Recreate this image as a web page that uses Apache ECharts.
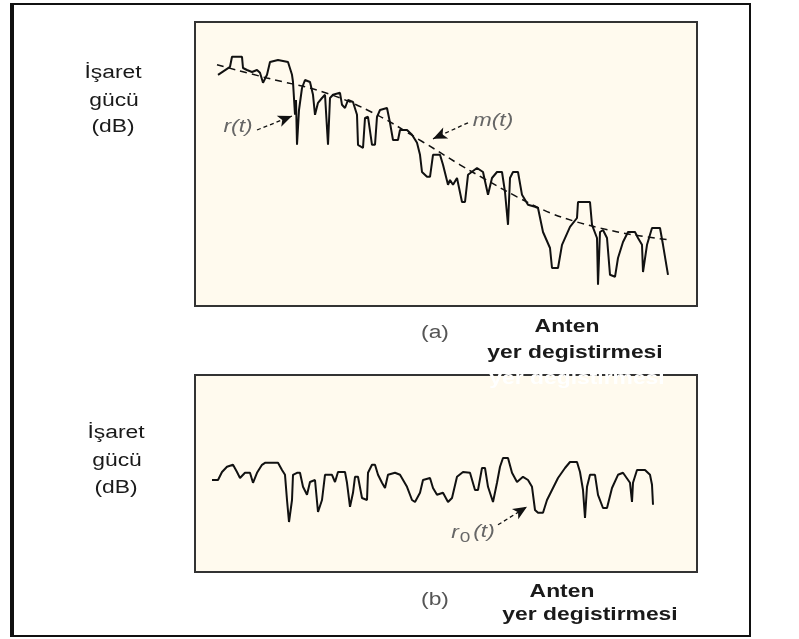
<!DOCTYPE html>
<html><head><meta charset="utf-8">
<script src="https://cdn.jsdelivr.net/npm/echarts@6/dist/echarts.min.js"></script>
<style>html,body{margin:0;padding:0;background:#fff}#c{width:799px;height:639px}</style>
</head><body><div id="c"></div>
<script>
// Panel (a): received signal r(t) vs antenna displacement  [displacement, power dB]
const rT = [[4.6,57.8],[7.0,59.8],[7.4,62.3],[9.4,62.3],[9.6,59.5],[10.4,59.0],[11.4,58.5],[12.4,59.0],[13.0,58.3],[13.6,55.8],[14.4,57.8],[15.0,61.0],[16.6,61.5],[18.6,61.0],[19.4,57.8],[19.6,56.0],[20.0,47.8],[20.2,51.5],[20.4,40.3],[20.8,49.0],[21.4,54.5],[22.0,56.5],[23.0,56.0],[23.6,52.8],[24.0,47.8],[24.6,50.8],[25.4,52.0],[26.0,52.8],[26.6,40.3],[27.0,52.0],[27.6,52.8],[29.0,53.3],[29.4,50.3],[30.0,49.5],[30.6,51.5],[31.6,51.0],[32.4,47.8],[32.6,40.3],[33.6,39.5],[34.0,47.0],[34.6,47.3],[35.4,40.3],[36.0,40.3],[36.4,47.3],[37.0,49.0],[38.4,49.5],[39.0,45.8],[39.6,41.5],[40.6,41.5],[41.0,44.0],[42.4,44.0],[43.4,42.8],[44.4,40.8],[45.0,37.8],[45.4,33.5],[46.4,32.3],[47.0,32.3],[47.6,37.8],[49.0,37.8],[49.6,35.3],[50.6,30.3],[51.0,31.5],[51.6,30.3],[52.4,32.0],[53.4,26.0],[54.0,26.0],[54.6,32.8],[56.4,34.5],[57.6,33.5],[58.6,27.8],[59.4,32.0],[60.4,33.5],[61.4,33.5],[62.0,28.5],[62.6,20.3],[63.0,32.0],[63.6,33.5],[64.6,33.5],[65.4,27.8],[66.6,25.3],[68.0,24.8],[68.6,24.5],[69.6,18.5],[71.0,14.5],[71.4,9.5],[72.6,9.5],[73.4,15.3],[75.0,19.8],[76.4,22.0],[76.6,26.0],[79.0,26.0],[79.4,20.3],[80.4,17.0],[80.6,5.3],[81.0,18.5],[81.6,19.0],[82.4,17.0],[83.0,7.8],[84.0,7.3],[84.6,12.0],[85.6,16.0],[86.6,18.5],[88.0,18.5],[88.6,17.0],[89.4,15.3],[89.6,8.5],[90.4,15.3],[91.4,19.5],[93.0,19.5],[93.6,15.3],[94.6,7.8]];
// Panel (a): local mean m(t)
const mT = [[4.4,60.3],[14.4,57.0],[25.6,53.5],[35.6,48.3],[45.6,41.0],[53.0,35.3],[57.6,32.0],[64.4,27.3],[71.0,23.3],[76.4,21.0],[81.0,19.5],[87.6,17.8],[95.0,16.5]];
// Panel (b): normalised signal r0(t)
const r0T = [[3.4,23.0],[4.6,23.0],[5.4,25.0],[6.4,26.3],[7.6,26.8],[8.4,25.0],[9.0,23.5],[10.0,24.8],[11.0,24.8],[11.6,22.3],[12.4,24.8],[13.4,26.8],[14.0,27.3],[16.6,27.3],[17.4,25.5],[18.0,24.3],[18.4,18.0],[18.8,12.5],[19.4,18.0],[19.6,24.3],[20.4,24.8],[21.0,24.8],[21.6,21.3],[22.4,19.3],[23.0,22.5],[24.0,23.0],[24.6,15.0],[25.4,18.0],[26.0,24.3],[27.4,24.3],[28.0,22.5],[28.6,25.0],[30.0,25.0],[30.4,22.3],[31.0,16.3],[31.6,19.8],[32.0,23.8],[32.6,23.8],[33.4,18.5],[34.4,18.0],[34.6,24.8],[35.4,26.8],[36.0,26.8],[36.6,24.3],[37.4,22.3],[38.0,21.0],[38.6,24.3],[40.0,24.8],[41.0,24.3],[42.4,21.3],[43.4,18.0],[44.0,17.5],[45.0,19.8],[45.6,23.0],[47.0,23.5],[47.6,21.0],[48.4,19.3],[49.6,19.8],[50.6,17.5],[51.4,18.5],[52.4,23.8],[53.6,25.0],[55.0,24.8],[56.0,20.5],[56.6,20.5],[57.4,26.0],[58.0,26.0],[58.6,21.3],[59.6,17.5],[60.4,22.3],[61.0,26.3],[61.6,28.5],[62.6,28.5],[63.4,24.8],[64.4,22.5],[65.6,23.8],[66.6,23.0],[67.4,21.3],[68.0,15.5],[68.6,14.8],[69.6,14.8],[70.4,18.0],[71.4,20.5],[72.6,23.5],[74.0,26.0],[75.0,27.5],[76.4,27.5],[77.0,25.0],[77.6,20.5],[78.0,13.5],[78.4,21.3],[79.0,24.3],[80.0,24.3],[80.6,19.3],[81.6,16.0],[82.4,16.0],[83.4,21.0],[84.6,24.3],[85.6,24.8],[87.0,22.3],[87.4,17.5],[87.6,22.3],[88.4,25.5],[90.0,25.5],[91.0,24.3],[91.4,21.8],[91.6,16.8]];
// Annotation arrows (data coords)
const arrowR = [[12.4,44.0],[19.4,47.5]];
const arrowM = [[54.6,45.8],[47.6,41.8]];
const arrowR0 = [[60.6,11.8],[66.4,16.3]];
const yLabel = ['İşaret','gücü','(dB)'];
const xLabel = ['Anten','yer degistirmesi'];

const chart = echarts.init(document.getElementById('c'), null, {renderer:'canvas'});
const FONT = '"Liberation Sans", Arial, sans-serif';
const SX = 1.27;
function txt(t, x, y, opt) {
  opt = opt || {};
  return {type:'text', x:x, y:y, scaleX: SX, z: opt.z || 10, style:{
    text:t, x:0, y:0, align:'center', verticalAlign:'middle', textAlign:'center', textVerticalAlign:'middle',
    fill: opt.fill || '#1a1a1a', fontSize: opt.size || 18, fontFamily: FONT,
    fontWeight: opt.weight || 'normal', fontStyle: opt.style || 'normal'}};
}
const arrowLine = (pts) => ({silent:true, symbol:['none','arrow'], symbolSize:[9,14],
  lineStyle:{color:'#111', type:[4,3], width:1.3}, label:{show:false},
  data:[[{coord:pts[0]},{coord:pts[1]}]]});

const graphics = [
  {type:'rect', shape:{x:11,y:4,width:739,height:632}, style:{fill:'none', stroke:'#111', lineWidth:2}, z:1},
  {type:'line', shape:{x1:12,y1:3,x2:12,y2:637}, style:{stroke:'#111', lineWidth:4}, z:1},
  txt(yLabel[0],113,73), txt(yLabel[1],114,101), txt(yLabel[2],113,127),
  txt(yLabel[0],116,433), txt(yLabel[1],117,461), txt(yLabel[2],116,488),
  txt('(a)',435,333,{fill:'#555'}),
  txt(xLabel[0],567,327,{weight:'bold'}), txt(xLabel[1],575,353,{weight:'bold'}),
  txt(xLabel[1],577,379,{weight:'bold', fill:'#ffffff', z:20}),
  txt('(b)',435,600,{fill:'#555'}),
  txt(xLabel[0],562,592,{weight:'bold'}), txt(xLabel[1],590,615,{weight:'bold'}),
  txt('r(t)',238,127,{fill:'#666', style:'italic', size:18}),
  txt('m(t)',493,121,{fill:'#666', style:'italic', size:18}),
  txt('r',455,533,{fill:'#666', style:'italic', size:18}),
  txt('0',465,538,{fill:'#666', size:15}),
  txt('(t)',484,532,{fill:'#666', style:'italic', size:18})
];

chart.setOption({
  animation:false,
  backgroundColor:'#ffffff',
  grid:[
    {left:195, top:22, width:502, height:284, show:true, backgroundColor:'#FFFAEE', borderColor:'#333', borderWidth:2},
    {left:195, top:375, width:502, height:197, show:true, backgroundColor:'#FFFAEE', borderColor:'#333', borderWidth:2}
  ],
  xAxis:[
    {type:'value', gridIndex:0, min:0, max:100.4, show:false},
    {type:'value', gridIndex:1, min:0, max:100.4, show:false}
  ],
  yAxis:[
    {type:'value', gridIndex:0, min:0, max:71, show:false},
    {type:'value', gridIndex:1, min:0, max:49.25, show:false}
  ],
  series:[
    {type:'line', xAxisIndex:0, yAxisIndex:0, data:rT, symbol:'none', lineStyle:{color:'#111', width:2}, markLine:arrowLine(arrowR)},
    {type:'line', xAxisIndex:0, yAxisIndex:0, data:mT, symbol:'none', smooth:0.4, lineStyle:{color:'#111', width:1.5, type:[7,5]}, markLine:arrowLine(arrowM)},
    {type:'line', xAxisIndex:1, yAxisIndex:1, data:r0T, symbol:'none', lineStyle:{color:'#111', width:2}, markLine:arrowLine(arrowR0)}
  ],
  graphic: graphics
});
</script></body></html>
